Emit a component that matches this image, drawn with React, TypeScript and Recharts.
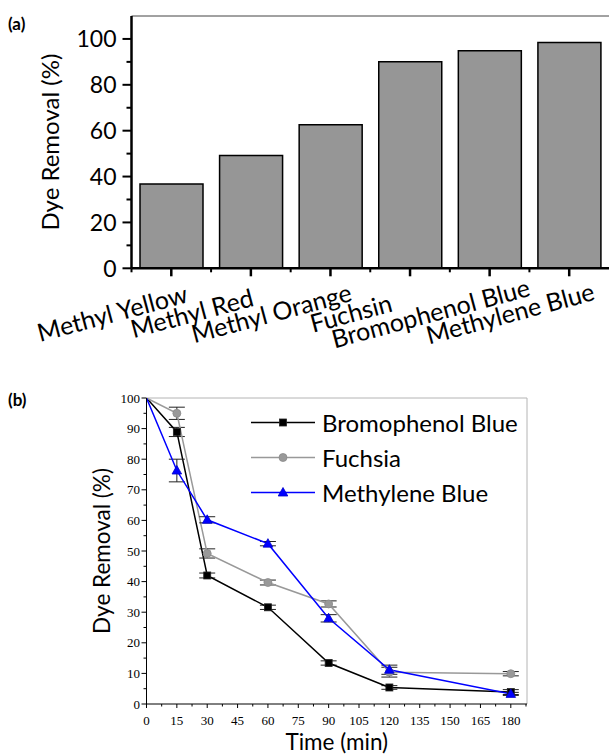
import React from 'react';
import {
  BarChart,
  Bar,
  XAxis,
  YAxis,
  ReferenceLine,
  LineChart,
  Line,
  ErrorBar,
  Legend,
} from 'recharts';

// ---------- Panel (a) data ----------
const dyes = ['Methyl Yellow', 'Methyl Red', 'Methyl Orange', 'Fuchsin', 'Bromophenol Blue', 'Methylene Blue'];
const removal = [36.7, 49.2, 62.6, 90.1, 94.9, 98.4];
const barYTicks = [0, 10, 20, 30, 40, 50, 60, 70, 80, 90, 100];

// ---------- Panel (b) data ----------
const times = [0, 15, 30, 60, 90, 120, 180];
const bromophenol = [100, 88.9, 42.0, 31.6, 13.4, 5.4, 3.9];
const bromophenolErr = [0, 1.5, 0.8, 0.7, 0.7, 0.6, 0.8];
const fuchsia = [100, 95.0, 49.2, 39.7, 32.7, 10.4, 9.9];
const fuchsiaErr = [0, 2.0, 1.5, 0.8, 1.0, 1.6, 0.7];
const methylene = [100, 76.3, 60.2, 52.4, 28.0, 11.2, 3.3];
const methyleneErr = [0, 3.7, 1.0, 0.7, 1.2, 1.5, 0.5];
const timeTicks = [0, 7.5, 15, 22.5, 30, 37.5, 45, 52.5, 60, 67.5, 75, 82.5, 90, 97.5, 105, 112.5, 120, 127.5, 135, 142.5, 150, 157.5, 165, 172.5, 180, 187.5];
const pctTicks = [0, 5, 10, 15, 20, 25, 30, 35, 40, 45, 50, 55, 60, 65, 70, 75, 80, 85, 90, 95, 100];

const barData = dyes.map((d, i) => ({ dye: d, removal: removal[i] }));
const lineData = times.map((t, i) => ({
  t,
  bromo: bromophenol[i],
  bromoErr: bromophenolErr[i],
  fuchsia: fuchsia[i],
  fuchsiaErr: fuchsiaErr[i],
  methylene: methylene[i],
  methyleneErr: methyleneErr[i],
}));

const FONT = 'Lato, "Open Sans", sans-serif';
const SERIF = '"Liberation Serif", "DejaVu Serif", serif';

// ---------- Tick renderers ----------
const BarYTick = (props: any) => {
  const { x, y, payload } = props;
  const v = payload.value;
  const major = v % 20 === 0;
  return (
    <g>
      <line x1={x} x2={x - (major ? 9 : 5)} y1={y} y2={y} stroke="#000" strokeWidth={2} />
      {major && (
        <text x={x - 15} y={y} dy="0.36em" textAnchor="end" fontFamily={FONT} fontSize={23} fill="#000">
          {v}
        </text>
      )}
    </g>
  );
};

const BarXTick = (props: any) => {
  const { x, y, payload } = props;
  const half = typeof payload.offset === 'number' && payload.offset > 0 ? payload.offset : 39.8;
  return (
    <g>
      <line x1={x} x2={x} y1={y} y2={y + 8} stroke="#000" strokeWidth={2.5} />
      <line x1={x - half} x2={x - half} y1={y} y2={y + 4} stroke="#000" strokeWidth={2} />
      <text
        transform={`translate(${x - 59},${y + 45}) rotate(-15)`}
        textAnchor="middle"
        dy="0.36em"
        fontFamily={FONT}
        fontSize={25}
        fill="#000"
      >
        {payload.value}
      </text>
    </g>
  );
};

const LineXTick = (props: any) => {
  const { x, y, payload } = props;
  const v = payload.value;
  const major = v % 15 === 0;
  return (
    <g>
      <line x1={x} x2={x} y1={y} y2={y + (major ? 4 : 2.5)} stroke="#000" strokeWidth={1} />
      {major && (
        <text x={x} y={y + 16} dy="0.36em" textAnchor="middle" fontFamily={SERIF} fontSize={13} fill="#000">
          {v}
        </text>
      )}
    </g>
  );
};

const LineYTick = (props: any) => {
  const { x, y, payload } = props;
  const v = payload.value;
  const major = v % 10 === 0;
  return (
    <g>
      <line x1={x} x2={x - (major ? 5 : 3)} y1={y} y2={y} stroke="#000" strokeWidth={1} />
      {major && (
        <text x={x - 6.5} y={y} dy="0.36em" textAnchor="end" fontFamily={SERIF} fontSize={13} fill="#000">
          {v}
        </text>
      )}
    </g>
  );
};

// ---------- Markers ----------
const squareMarker = (cx: number, cy: number) => (
  <rect x={cx - 3.5} y={cy - 3.5} width={7} height={7} fill="#000" stroke="#222" strokeWidth={0.8} />
);
const circleMarker = (cx: number, cy: number) => (
  <circle cx={cx} cy={cy} r={4} fill="#999" stroke="#8a8a8a" strokeWidth={0.8} />
);
const triangleMarker = (cx: number, cy: number) => (
  <polygon
    points={`${cx},${cy - 5} ${cx + 4.8},${cy + 3.5} ${cx - 4.8},${cy + 3.5}`}
    fill="#0000ff"
    stroke="#0000cc"
    strokeWidth={0.8}
  />
);

const makeDot = (fn: (cx: number, cy: number) => React.ReactElement) => (props: any) => {
  const { cx, cy, index } = props;
  if (index === 0 || cx == null || cy == null) return <g key={`d${index}`} />;
  return <g key={`d${index}`}>{fn(cx, cy)}</g>;
};

const markerFor = (key: string) =>
  key === 'bromo' ? squareMarker : key === 'fuchsia' ? circleMarker : triangleMarker;

const LegendContent = (props: any) => {
  const { payload } = props;
  return (
    <div>
      {(payload || []).map((e: any) => (
        <div key={e.value} style={{ display: 'flex', alignItems: 'center', height: 35 }}>
          <svg width={64} height={35} style={{ display: 'block' }}>
            <line x1={0} x2={64} y1={17.5} y2={17.5} stroke={e.color} strokeWidth={1.5} />
            {markerFor(e.dataKey)(32, 17.5)}
          </svg>
          <span style={{ marginLeft: 7, fontFamily: FONT, fontSize: 24, color: '#000', lineHeight: '35px', whiteSpace: 'nowrap' }}>
            {e.value}
          </span>
        </div>
      ))}
    </div>
  );
};

export default function App() {
  return (
    <div style={{ position: 'absolute', left: 0, top: 0, width: 609, height: 756, overflow: 'hidden', background: '#fff' }}>
      {/* Panel (a) */}
      <div style={{ position: 'absolute', left: 0, top: 0 }}>
        <BarChart
          width={609}
          height={370}
          data={barData}
          margin={{ top: 16, right: 0, bottom: 0, left: 0 }}
          barCategoryGap={8.5}
        >
          <XAxis
            dataKey="dye"
            type="category"
            height={101.7}
            tickSize={0}
            tickMargin={0}
            interval={0}
            axisLine={{ stroke: '#000', strokeWidth: 2.5 }}
            tickLine={false}
            tick={<BarXTick />}
          />
          <YAxis
            type="number"
            domain={[0, 110]}
            ticks={barYTicks}
            width={131.5}
            tickSize={0}
            tickMargin={0}
            interval={0}
            axisLine={{ stroke: '#000', strokeWidth: 2.5 }}
            tickLine={false}
            tick={<BarYTick />}
            label={{
              value: 'Dye Removal (%)',
              angle: -90,
              position: 'center',
              dx: -15,
              fontFamily: FONT,
              fontSize: 24,
              fill: '#000',
            }}
          />
          <ReferenceLine y={110} stroke="#444" strokeWidth={1} />
          <Bar dataKey="removal" fill="#969696" stroke="#000" strokeWidth={1.5} isAnimationActive={false} />
        </BarChart>
      </div>

      {/* Panel (b) */}
      <div style={{ position: 'absolute', left: 0, top: 330 }}>
        <LineChart width={609} height={426} data={lineData} margin={{ top: 68, right: 82, bottom: 0, left: 0 }}>
          <XAxis
            type="number"
            dataKey="t"
            domain={[0, 188]}
            ticks={timeTicks}
            allowDataOverflow
            height={52}
            tickSize={0}
            tickMargin={0}
            interval={0}
            axisLine={{ stroke: '#000', strokeWidth: 1 }}
            tickLine={false}
            tick={<LineXTick />}
            label={{ value: 'Time (min)', position: 'center', dy: 12, fontFamily: FONT, fontSize: 22.5, fill: '#000' }}
          />
          <YAxis
            type="number"
            domain={[0, 100]}
            ticks={pctTicks}
            allowDataOverflow
            width={146.5}
            tickSize={0}
            tickMargin={0}
            interval={0}
            axisLine={{ stroke: '#000', strokeWidth: 1 }}
            tickLine={false}
            tick={<LineYTick />}
            label={{
              value: 'Dye Removal (%)',
              angle: -90,
              position: 'center',
              dx: 29,
              fontFamily: FONT,
              fontSize: 22.5,
              fill: '#000',
            }}
          />
          <ReferenceLine y={100} stroke="#b4b4b4" strokeWidth={1} />
          <ReferenceLine x={188} stroke="#b4b4b4" strokeWidth={1} />
          <Legend
            layout="vertical"
            align="center"
            verticalAlign="middle"
            content={<LegendContent />}
            wrapperStyle={{ position: 'absolute', left: 251, top: 75, width: 300 }}
          />
          <Line
            dataKey="bromo"
            name="Bromophenol Blue"
            stroke="#000"
            strokeWidth={1.5}
            dot={makeDot(squareMarker)}
            activeDot={false}
            isAnimationActive={false}
          >
            <ErrorBar dataKey="bromoErr" direction="y" width={8} stroke="#222" strokeWidth={1} />
          </Line>
          <Line
            dataKey="fuchsia"
            name="Fuchsia"
            stroke="#999"
            strokeWidth={1.5}
            dot={makeDot(circleMarker)}
            activeDot={false}
            isAnimationActive={false}
          >
            <ErrorBar dataKey="fuchsiaErr" direction="y" width={8} stroke="#222" strokeWidth={1} />
          </Line>
          <Line
            dataKey="methylene"
            name="Methylene Blue"
            stroke="#0000ff"
            strokeWidth={1.5}
            dot={makeDot(triangleMarker)}
            activeDot={false}
            isAnimationActive={false}
          >
            <ErrorBar dataKey="methyleneErr" direction="y" width={8} stroke="#222" strokeWidth={1} />
          </Line>
        </LineChart>
      </div>

      <div style={{ position: 'absolute', left: 8, top: 14, fontFamily: FONT, fontWeight: 700, fontSize: 17, lineHeight: '20px' }}>
        (a)
      </div>
      <div style={{ position: 'absolute', left: 8, top: 390, fontFamily: FONT, fontWeight: 700, fontSize: 17, lineHeight: '20px' }}>
        (b)
      </div>
    </div>
  );
}
